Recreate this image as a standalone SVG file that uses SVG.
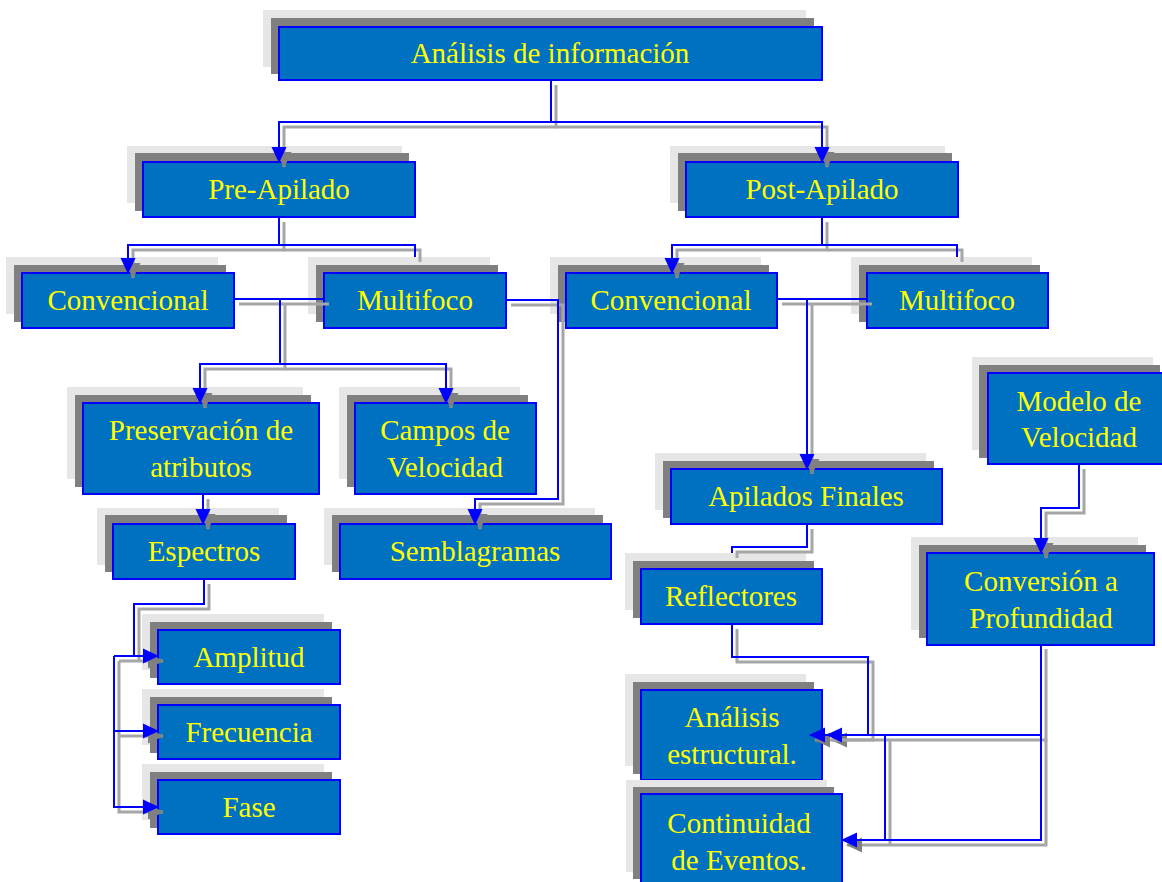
<svg xmlns="http://www.w3.org/2000/svg" width="1162" height="882" viewBox="0 0 1162 882">
<defs>
<style>
.s2{fill:#e6e6e6}
.s1{fill:#808080}
.box{fill:#0070C0;stroke:#0000FF;stroke-width:2}
.t{font-family:"Liberation Serif","Times New Roman",serif;font-size:29px;fill:#FFFF00;text-anchor:middle}
.c{fill:none;stroke:#0000FF;stroke-width:2}
.cs{fill:none;stroke:#a6a6a6;stroke-width:3}
.c .a{marker-end:url(#ah)}
.cs .a{marker-end:url(#ahs)}
</style>
<marker id="ah" markerUnits="userSpaceOnUse" markerWidth="16" markerHeight="16" viewBox="0 0 16 16" refX="15" refY="8" orient="auto">
<path d="M0,0.5 L16,8 L0,15.5 z" fill="#0000FF"/>
</marker>
<marker id="ahs" markerUnits="userSpaceOnUse" markerWidth="16" markerHeight="16" viewBox="0 0 16 16" refX="15" refY="8" orient="auto">
<path d="M0,0.5 L16,8 L0,15.5 z" fill="#808080"/>
</marker>
</defs>
<rect width="1162" height="882" fill="#FFFFFF"/>

<g id="n-analisis">
<rect class="s2" x="263" y="10" width="543" height="57"/>
<rect class="s1" x="271" y="18" width="543" height="56"/>
<rect class="box" x="279" y="27" width="543" height="53"/>
<text class="t" x="550" y="63">Análisis de información</text>
</g>
<g id="n-pre">
<rect class="s2" x="127" y="146" width="275" height="57"/>
<rect class="s1" x="135" y="153" width="274" height="58"/>
<rect class="box" x="143" y="162" width="272" height="55"/>
<text class="t" x="279" y="199">Pre-Apilado</text>
</g>
<g id="n-post">
<rect class="s2" x="670" y="146" width="275" height="57"/>
<rect class="s1" x="678" y="153" width="274" height="58"/>
<rect class="box" x="686" y="162" width="272" height="55"/>
<text class="t" x="822" y="199">Post-Apilado</text>
</g>
<g id="n-conv-l">
<rect class="s2" x="6" y="257" width="212" height="57"/>
<rect class="s1" x="14" y="265" width="212" height="57"/>
<rect class="box" x="22" y="273" width="212" height="55"/>
<text class="t" x="128" y="310">Convencional</text>
</g>
<g id="n-multi-l">
<rect class="s2" x="308" y="257" width="182" height="57"/>
<rect class="s1" x="316" y="265" width="182" height="57"/>
<rect class="box" x="324" y="273" width="182" height="55"/>
<text class="t" x="415" y="310">Multifoco</text>
</g>
<g id="n-conv-r">
<rect class="s2" x="550" y="257" width="211" height="57"/>
<rect class="s1" x="558" y="265" width="211" height="57"/>
<rect class="box" x="566" y="273" width="211" height="55"/>
<text class="t" x="671" y="310">Convencional</text>
</g>
<g id="n-multi-r">
<rect class="s2" x="851" y="257" width="181" height="57"/>
<rect class="s1" x="859" y="265" width="181" height="57"/>
<rect class="box" x="867" y="273" width="181" height="55"/>
<text class="t" x="957" y="310">Multifoco</text>
</g>
<g id="n-preserv">
<rect class="s2" x="67" y="387" width="236" height="92"/>
<rect class="s1" x="75" y="395" width="236" height="92"/>
<rect class="box" x="83" y="403" width="236" height="91"/>
<text class="t" x="201" y="440">Preservación de</text>
<text class="t" x="201" y="477">atributos</text>
</g>
<g id="n-campos">
<rect class="s2" x="339" y="387" width="181" height="92"/>
<rect class="s1" x="347" y="395" width="181" height="92"/>
<rect class="box" x="355" y="403" width="181" height="91"/>
<text class="t" x="445" y="440">Campos de</text>
<text class="t" x="445" y="477">Velocidad</text>
</g>
<g id="n-espectros">
<rect class="s2" x="97" y="508" width="182" height="57"/>
<rect class="s1" x="105" y="515" width="182" height="57"/>
<rect class="box" x="113" y="524" width="182" height="55"/>
<text class="t" x="204" y="561">Espectros</text>
</g>
<g id="n-sembla">
<rect class="s2" x="324" y="508" width="271" height="57"/>
<rect class="s1" x="332" y="515" width="271" height="57"/>
<rect class="box" x="340" y="524" width="271" height="55"/>
<text class="t" x="475" y="561">Semblagramas</text>
</g>
<g id="n-amplitud">
<rect class="s2" x="142" y="614" width="182" height="56"/>
<rect class="s1" x="150" y="622" width="182" height="56"/>
<rect class="box" x="158" y="630" width="182" height="54"/>
<text class="t" x="249" y="667">Amplitud</text>
</g>
<g id="n-frecuencia">
<rect class="s2" x="142" y="689" width="182" height="56"/>
<rect class="s1" x="150" y="697" width="182" height="56"/>
<rect class="box" x="158" y="705" width="182" height="54"/>
<text class="t" x="249" y="742">Frecuencia</text>
</g>
<g id="n-fase">
<rect class="s2" x="142" y="764" width="182" height="56"/>
<rect class="s1" x="150" y="772" width="182" height="56"/>
<rect class="box" x="158" y="780" width="182" height="54"/>
<text class="t" x="249" y="817">Fase</text>
</g>
<g id="n-apilados">
<rect class="s2" x="655" y="453" width="271" height="57"/>
<rect class="s1" x="663" y="461" width="271" height="57"/>
<rect class="box" x="671" y="469" width="271" height="55"/>
<text class="t" x="806" y="506">Apilados Finales</text>
</g>
<g id="n-reflectores">
<rect class="s2" x="625" y="553" width="181" height="57"/>
<rect class="s1" x="633" y="561" width="181" height="57"/>
<rect class="box" x="641" y="569" width="181" height="55"/>
<text class="t" x="731" y="606">Reflectores</text>
</g>
<g id="n-estructural">
<rect class="s2" x="625" y="674" width="181" height="92"/>
<rect class="s1" x="633" y="682" width="181" height="92"/>
<rect class="box" x="641" y="690" width="181" height="90"/>
<text class="t" x="732" y="727">Análisis</text>
<text class="t" x="732" y="764">estructural.</text>
</g>
<g id="n-continuidad">
<rect class="s2" x="626" y="780" width="201" height="92"/>
<rect class="s1" x="633" y="787" width="201" height="92"/>
<rect class="box" x="641" y="794" width="201" height="91"/>
<text class="t" x="739" y="833">Continuidad</text>
<text class="t" x="739" y="870">de Eventos.</text>
</g>
<g id="n-modelo">
<rect class="s2" x="972" y="357" width="181" height="93"/>
<rect class="s1" x="979" y="365" width="181" height="93"/>
<rect class="box" x="988" y="373" width="181" height="91"/>
<text class="t" x="1079" y="411">Modelo de</text>
<text class="t" x="1079" y="447">Velocidad</text>
</g>
<g id="n-conversion">
<rect class="s2" x="911" y="537" width="227" height="93"/>
<rect class="s1" x="919" y="545" width="227" height="93"/>
<rect class="box" x="927" y="553" width="227" height="92"/>
<text class="t" x="1041" y="591">Conversión a</text>
<text class="t" x="1041" y="628">Profundidad</text>
</g>

<g id="connectors">
<g class="cs" transform="translate(5,5)">
<path class="a" d="M551,80 V122 H279 V162"/>
<path class="a" d="M551,122 H822 V162"/>
<path class="a" d="M279,217 V245 H128 V273"/>
<path d="M279,245 H415 V257"/>
<path class="a" d="M822,217 V245 H672 V273"/>
<path d="M822,245 H957 V257"/>
<path d="M234,299 H324"/>
<path class="a" d="M280,299 V364 H200 V403"/>
<path class="a" d="M280,364 H446 V403"/>
<path class="a" d="M506,300 H558 V499 H475 V524"/>
<path d="M777,299 H867"/>
<path class="a" d="M807,299 V469"/>
<path d="M807,524 V547 H732 V553"/>
<path class="a" d="M203,494 V524"/>
<path d="M204,579 V604 H134 V656"/>
<path class="a" d="M114,656 H158"/>
<path class="a" d="M114,656 V807 H158"/>
<path class="a" d="M114,731 H158"/>
<path class="a" d="M732,624 V657 H868 V735 H827"/>
<path class="a" d="M1041,644 V735 H810"/>
<path class="a" d="M1041,735 V840 H842"/>
<path d="M885,735 V840"/>
<path class="a" d="M1079,464 V508 H1041 V553"/>
</g>
<g class="c">
<path class="a" d="M551,80 V122 H279 V162"/>
<path class="a" d="M551,122 H822 V162"/>
<path class="a" d="M279,217 V245 H128 V273"/>
<path d="M279,245 H415 V257"/>
<path class="a" d="M822,217 V245 H672 V273"/>
<path d="M822,245 H957 V257"/>
<path d="M234,299 H324"/>
<path class="a" d="M280,299 V364 H200 V403"/>
<path class="a" d="M280,364 H446 V403"/>
<path class="a" d="M506,300 H558 V499 H475 V524"/>
<path d="M777,299 H867"/>
<path class="a" d="M807,299 V469"/>
<path d="M807,524 V547 H732 V553"/>
<path class="a" d="M203,494 V524"/>
<path d="M204,579 V604 H134 V656"/>
<path class="a" d="M114,656 H158"/>
<path class="a" d="M114,656 V807 H158"/>
<path class="a" d="M114,731 H158"/>
<path class="a" d="M732,624 V657 H868 V735 H827"/>
<path class="a" d="M1041,644 V735 H810"/>
<path class="a" d="M1041,735 V840 H842"/>
<path d="M885,735 V840"/>
<path class="a" d="M1079,464 V508 H1041 V553"/>
</g>
</g>
</svg>
